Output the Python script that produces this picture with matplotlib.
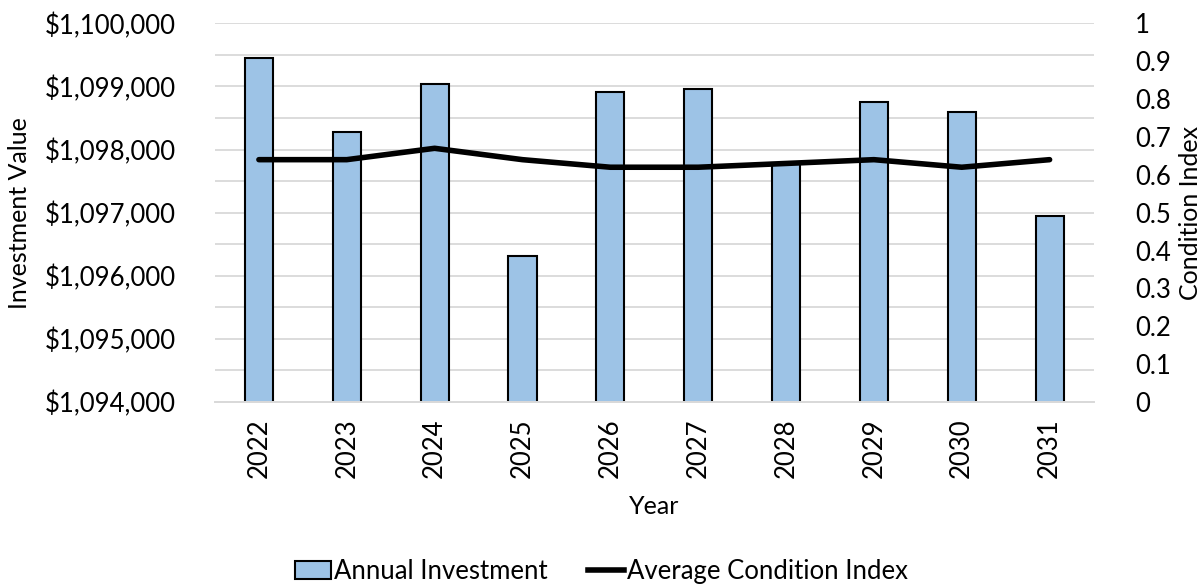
import numpy as np
import matplotlib
matplotlib.use("Agg")
import matplotlib.pyplot as plt
from matplotlib.ticker import FuncFormatter, MultipleLocator
from matplotlib.patches import Patch
from matplotlib.lines import Line2D

years = ["2022", "2023", "2024", "2025", "2026", "2027", "2028", "2029", "2030", "2031"]
annual_investment = [1099446, 1098272, 1099033, 1096321, 1098906,
                     1098954, 1097780, 1098748, 1098589, 1096945]
avg_condition = [0.64, 0.64, 0.67, 0.64, 0.62, 0.62, 0.63, 0.64, 0.62, 0.64]

plt.rcParams['font.family'] = ['Lato', 'DejaVu Sans']
plt.rcParams['font.size'] = 18

fig = plt.figure(figsize=(12.03, 5.85), dpi=100)
ax = fig.add_axes([0.1787, 0.3128, 0.7303, 0.6473])
ax2 = ax.twinx()

x = np.arange(len(years))
ax.bar(x, annual_investment, width=0.32, color='#9dc3e6',
       edgecolor='black', linewidth=1.5, zorder=2)
ax.set_ylim(1094000, 1100000)
ax.set_xlim(-0.5, len(years) - 0.5)
ax.yaxis.set_major_locator(MultipleLocator(1000))
ax.yaxis.set_minor_locator(MultipleLocator(500))
ax.yaxis.set_major_formatter(FuncFormatter(lambda v, p: '${:,.0f}'.format(v)))
ax.grid(axis='y', which='both', color='#d9d9d9', linewidth=1.3, zorder=0)
ax.set_axisbelow(True)
ax.set_xticks(x)
ax.set_xticklabels(years, rotation=90)
ax.tick_params(axis='both', which='both', length=0, labelsize=18.5, colors='#000000')
ax.tick_params(axis='y', pad=28)
ax.tick_params(axis='x', pad=12)
ax.set_ylabel('Investment Value', fontsize=18, labelpad=10)
ax.set_xlabel('Year', fontsize=18, labelpad=12)

ax2.plot(x, avg_condition, color='black', linewidth=4,
         solid_joinstyle='round', solid_capstyle='round', zorder=3)
ax2.set_ylim(0, 1)
ax2.yaxis.set_major_locator(MultipleLocator(0.1))
ax2.yaxis.set_major_formatter(FuncFormatter(lambda v, p: '{:g}'.format(round(v, 1))))
ax2.tick_params(axis='y', length=0, labelsize=18.5, pad=30)
ax2.set_ylabel('Condition Index', fontsize=18, labelpad=6)

for a in (ax, ax2):
    for side in ('top', 'left', 'right'):
        a.spines[side].set_visible(False)
    a.spines['bottom'].set_color('#d9d9d9')
    a.spines['bottom'].set_linewidth(1.3)

handles = [Patch(facecolor='#9dc3e6', edgecolor='black', linewidth=1.5),
           Line2D([0], [0], color='black', linewidth=4)]
fig.legend(handles, ['Annual Investment', 'Average Condition Index'],
           loc='center', bbox_to_anchor=(0.5, 0.023), ncol=2, frameon=False,
           fontsize=18.5, handlelength=1.4, handletextpad=0.1, columnspacing=1.6)

fig.savefig('out.png', dpi=100)
